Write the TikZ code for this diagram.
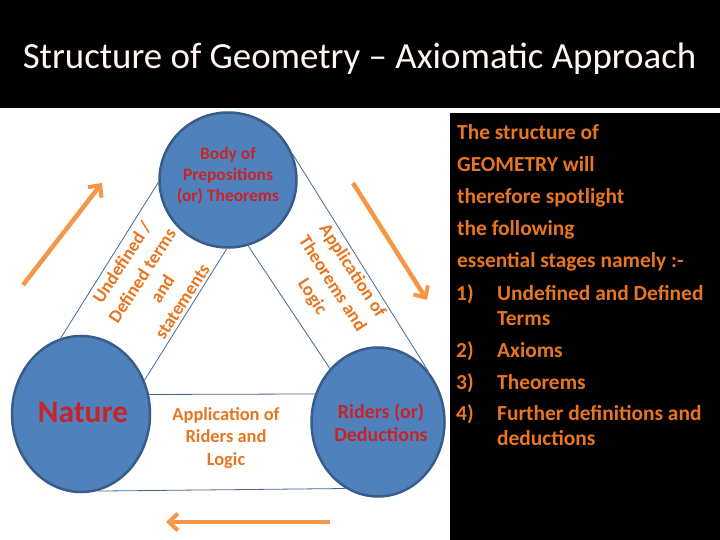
\documentclass[tikz,border=0pt]{standalone}
\usepackage{fontspec}
\setmainfont{Carlito}
\usetikzlibrary{shapes.geometric,arrows.meta}
\definecolor{circfill}{RGB}{79,129,189}
\definecolor{circborder}{RGB}{56,93,138}
\definecolor{bandline}{RGB}{70,105,150}
\definecolor{arroworange}{RGB}{247,150,70}
\definecolor{textorange}{RGB}{232,118,32}
\definecolor{redtext}{RGB}{200,36,40}
\definecolor{titlewhite}{RGB}{255,246,242}
\begin{document}
\begin{tikzpicture}[x=1bp,y=-1bp,
  bubble/.style={ellipse, draw=circborder, line width=2.5bp, fill=circfill, inner sep=0pt},
  band/.style={draw=bandline, line width=0.8bp},
  flow/.style={draw=arroworange, line width=4.5bp, -{Straight Barb[length=9bp,width=17bp,line width=4bp]}},
  redtxt/.style={text=redtext, align=center, inner sep=0pt},
  ortxt/.style={text=textorange, align=center, inner sep=0pt, font=\bfseries\fontsize{18.5}{24}\selectfont},
  panel/.style={anchor=base west, text=textorange, inner sep=0pt, font=\bfseries\fontsize{21.5}{25}\selectfont},
]
\useasboundingbox (0,0) rectangle (720,540);
\fill[white] (0,0) rectangle (720,540);
\fill[black] (0,0) rectangle (720,108);
\node[text=titlewhite, font=\fontsize{37}{42}\selectfont, inner sep=0pt, anchor=base] (title) at (359.5,69) {Structure of Geometry – Axiomatic Approach};
\fill[black] (450,113) rectangle (720,540);

% circles
\node[bubble, minimum width=137bp, minimum height=135bp] (top) at (228,180) {};
\node[bubble, minimum width=138bp, minimum height=156bp] (nature) at (81,414) {};
\node[bubble, minimum width=133bp, minimum height=149bp] (riders) at (378,422) {};

% bands
\draw[band] (top.182) -- (nature.105);
\draw[band] (top.269) -- (nature.28);
\draw[band] (top.22) -- (riders.45);
\draw[band] (top.287) -- (riders.132);
\draw[band] (nature.16) -- (riders.156);
\draw[band] (nature.282) -- (riders.244);

% circle labels
\node[redtxt, font=\bfseries\fontsize{17.5}{21}\selectfont] (ltop) at (228,176) {Body of\\Prepositions\\(or) Theorems};
\node[redtxt, font=\bfseries\fontsize{31.5}{34}\selectfont] (lnat) at (83,412) {Nature};
\node[redtxt, font=\bfseries\fontsize{20}{23}\selectfont] (lrid) at (381,423) {Riders (or)\\Deductions};

% band labels
\node[ortxt, rotate=57] (lleft) at (152,282) {Undefined /\\Defined terms\\and\\statements};
\node[ortxt, rotate=-57] (lright) at (332,284) {Application of\\Theorems and\\Logic};
\node[ortxt, font=\bfseries\fontsize{18.5}{22.5}\selectfont] (lbot) at (226,438) {Application of\\Riders and\\Logic};

% arrows
\coordinate (a1s) at (23,285); \coordinate (a1e) at (102,183);
\coordinate (a2s) at (353,183); \coordinate (a2e) at (427,300);
\coordinate (a3s) at (330,522); \coordinate (a3e) at (166,522);
\draw[flow] (a1s) -- (a1e);
\draw[flow] (a2s) -- (a2e);
\draw[flow] (a3s) -- (a3e);

% right panel
\node[panel] (p1) at (457,140) {The structure of};
\node[panel] (p2) at (457,172) {GEOMETRY will};
\node[panel] (p3) at (457,204) {therefore spotlight};
\node[panel] (p4) at (457,236) {the following};
\node[panel] (p5) at (457,268) {essential stages namely :-};
\node[panel] (n1) at (456,300) {1)};
\node[panel] (i1) at (497,300) {Undefined and Defined};
\node[panel] (i1b) at (497,325) {Terms};
\node[panel] (n2) at (456,357) {2)};
\node[panel] (i2) at (497,357) {Axioms};
\node[panel] (n3) at (456,389) {3)};
\node[panel] (i3) at (497,389) {Theorems};
\node[panel] (n4) at (456,420) {4)};
\node[panel] (i4) at (497,420) {Further definitions and};
\node[panel] (i4b) at (497,445) {deductions};
\end{tikzpicture}
\end{document}
